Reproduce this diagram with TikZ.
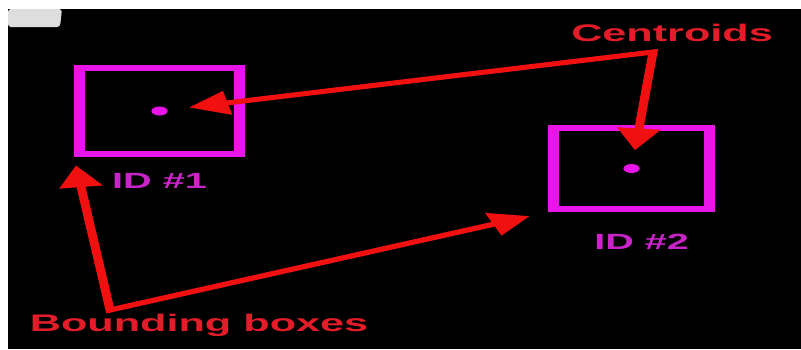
\documentclass[tikz,border=0pt]{standalone}
\usepackage{fontspec}
\setmainfont{Liberation Sans}
\usetikzlibrary{shapes.geometric, arrows.meta, positioning}
\definecolor{cMagenta}{RGB}{232,20,232}
\definecolor{cLabel}{RGB}{200,36,200}
\definecolor{cRed}{RGB}{240,16,16}
\definecolor{cTextRed}{RGB}{226,28,40}
\definecolor{cTab}{RGB}{222,222,222}
\tikzset{
	bbox/.style    ={rectangle, draw=cMagenta, line width=6pt, inner sep=0pt},
	centroid/.style={circle, fill=cMagenta, minimum size=9pt, inner sep=0pt},
	idlabel/.style ={text=cLabel, font=\bfseries\fontsize{22}{24}\selectfont, inner sep=0pt},
	callout/.style ={text=cTextRed, font=\bfseries\fontsize{24}{28}\selectfont, inner sep=0pt},
	ptr/.style     ={cRed, line width=5pt, {Triangle[length=22pt, width=23pt]}-{Triangle[length=22pt, width=23pt]}},
}
\begin{document}
\begin{tikzpicture}[x=1pt, y=-1pt]
	\useasboundingbox (0,0) rectangle (801,349);
	% screen area
	\fill[white] (0,0) rectangle (801,349);
	\fill[black] (8,9) rectangle (801,349);
	\fill[cTab, rounded corners=3pt] (8,9) -- (62,9) -- (60,27) -- (8,27) -- cycle;
	% the screenshot is stretched sideways
	\begin{scope}[transform canvas={xscale=1.8}, x=0.5556pt]
		% tracked objects
		\node[bbox, minimum width=89pt, minimum height=86pt] (box1) at (159.5,111) {};
		\node[bbox, minimum width=86.8pt, minimum height=81pt] (box2) at (631.5,168.5) {};
		\node[centroid] (dot1) at (box1.center) {};
		\node[centroid] (dot2) at (box2.center) {};
		\node[idlabel, below=16pt of box1] (id1) {ID \#1};
		\node[idlabel, below=22pt of box2, xshift=5.6pt] (id2) {ID \#2};
		% callouts
		\node[callout] (cen) at (672,33) {Centroids};
		\node[callout] (bnd) at (199,325) {Bounding boxes};
		\coordinate (cApex) at (653,52);
		\coordinate (bApex) at (110,310);
		\draw[ptr, shorten <=12pt, shorten >=13.5pt] (dot1) -- (cApex) -- (dot2);
		\draw[ptr, shorten <=8.3pt, shorten >=10.8pt] (box1.south west) -- (bApex) -- (box2.south west);
	\end{scope}
\end{tikzpicture}
\end{document}
